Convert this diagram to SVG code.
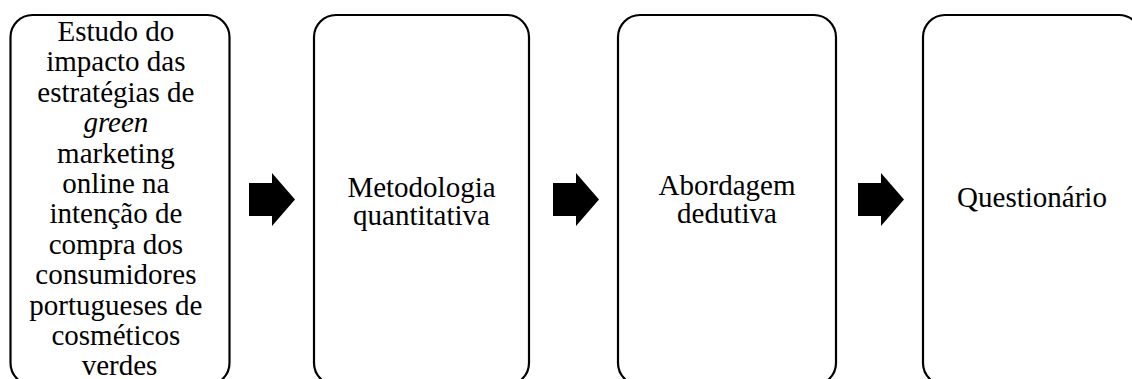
<svg xmlns="http://www.w3.org/2000/svg" width="1132" height="379" viewBox="0 0 1132 379">
<style>
.box{fill:#fff;stroke:#000;stroke-width:2.2}
.t{font-family:"Liberation Serif","Times New Roman",serif;font-size:29px;fill:#000;text-anchor:middle}
.arr{fill:#000}
</style>
<rect width="1132" height="379" fill="#fff"/>
<g id="node1">
<rect class="box" x="10.5" y="15" width="219" height="370" rx="22" ry="22"/>
<text class="t">
<tspan x="119.5" y="41">Estudo do</tspan>
<tspan x="119.5" y="71.4">impacto das</tspan>
<tspan x="119.5" y="101.8">estratégias de</tspan>
<tspan x="119.5" y="132.2" font-style="italic">green</tspan>
<tspan x="119.5" y="162.6">marketing</tspan>
<tspan x="119.5" y="193">online na</tspan>
<tspan x="119.5" y="223.4">intenção de</tspan>
<tspan x="119.5" y="253.8">compra dos</tspan>
<tspan x="119.5" y="284.2">consumidores</tspan>
<tspan x="119.5" y="314.6">portugueses de</tspan>
<tspan x="119.5" y="345">cosméticos</tspan>
<tspan x="119.5" y="375.4">verdes</tspan>
</text>
</g>
<g id="node2">
<rect class="box" x="314" y="15" width="215" height="370" rx="22" ry="22"/>
<text class="t"><tspan x="421.5" y="197">Metodologia</tspan><tspan x="421.5" y="225">quantitativa</tspan></text>
</g>
<g id="node3">
<rect class="box" x="618" y="15" width="218" height="370" rx="22" ry="22"/>
<text class="t"><tspan x="727" y="195">Abordagem</tspan><tspan x="727" y="223">dedutiva</tspan></text>
</g>
<g id="node4">
<rect class="box" x="923" y="15" width="218" height="370" rx="22" ry="22"/>
<text class="t" x="1032" y="207">Questionário</text>
</g>
<g id="connectors">
<path class="arr" d="M249,183 H272 V173 L295,199.5 L272,226 V216 H249 Z"/>
<path class="arr" d="M553,183 H576 V173 L599,199.5 L576,226 V216 H553 Z"/>
<path class="arr" d="M858,183 H881 V173 L904,199.5 L881,226 V216 H858 Z"/>
</g>
</svg>
